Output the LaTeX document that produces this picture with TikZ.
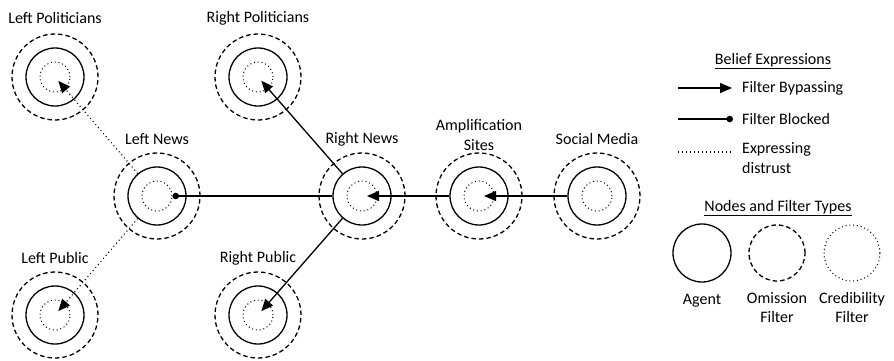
\documentclass[tikz,border=0pt]{standalone}
\usepackage{fontspec}
\setmainfont{Carlito}
\usetikzlibrary{arrows.meta,calc}
\begin{document}
\begin{tikzpicture}[x=1pt,y=-1pt,
  agent/.style={circle,draw,line width=1.3pt,minimum size=58pt,inner sep=0pt},
  omission/.style={circle,draw,line width=1.3pt,dash pattern=on 4.5pt off 3pt,minimum size=86pt,inner sep=0pt},
  credibility/.style={circle,draw,line width=1pt,dash pattern=on 1pt off 2.8pt,minimum size=30pt,inner sep=0pt},
  lbl/.style={font=\fontsize{16}{19.5}\selectfont,align=center,inner sep=0pt},
  bypass/.style={line width=1.3pt,-{Triangle[length=12pt,width=10pt]}},
  blocked/.style={line width=1.3pt,-{Circle[length=6.5pt]}},
  distrust/.style={line width=1.1pt,dash pattern=on 1pt off 3pt,-{Triangle[length=12pt,width=10pt]}},
]
\useasboundingbox (0,0) rectangle (894,360);

% network nodes: agent ring, omission ring, credibility ring
\foreach \n/\x/\y in {lpol/55/77, ln/157/196, lpub/55/315, rpol/258/77,
                      rn/362/196, rpub/258/315, amp/479/196, sm/597/196}{
  \node[omission] (\n o) at (\x,\y) {};
  \node[agent] (\n) at (\x,\y) {};
  \node[credibility] (\n c) at (\x,\y) {};
}

% node labels
\node[lbl] (tlpol) at (55,18) {Left Politicians};
\node[lbl] (trpol) at (258,18) {Right Politicians};
\node[lbl] (tln) at (157,139) {Left News};
\node[lbl] (trn) at (362,139) {Right News};
\node[lbl] (tamp) at (479,135) {Amplification\\Sites};
\node[lbl] (tsm) at (597,139) {Social Media};
\node[lbl] (tlpub) at (55,258) {Left Public};
\node[lbl] (trpub) at (258,258) {Right Public};

% belief expressions between nodes (tips stop just short of the centre)
\draw[bypass] (sm) -- ($(amp.center)!5pt!(sm.center)$);
\draw[bypass] (amp) -- ($(rn.center)!5pt!(amp.center)$);
\draw[bypass] (rn) -- ($(rpol.center)!5pt!(rn.center)$);
\draw[bypass] (rn) -- ($(rpub.center)!5pt!(rn.center)$);
\draw[blocked] (rn) -- (lnc);
\draw[distrust] (ln) -- ($(lpol.center)!5pt!(ln.center)$);
\draw[distrust] (ln) -- ($(lpub.center)!5pt!(ln.center)$);

% legend: belief expressions
\node[lbl] (hbe) at (773,61) {\underline{Belief Expressions}};
\coordinate (b1s) at (678,88);  \coordinate (b1e) at (732,88);
\coordinate (b2s) at (678,119); \coordinate (b2e) at (733,119);
\coordinate (b3s) at (678,152); \coordinate (b3e) at (732,152);
\draw[bypass] (b1s) -- (b1e);
\draw[blocked] (b2s) -- (b2e);
\draw[line width=1.1pt,dash pattern=on 1pt off 3pt] (b3s) -- (b3e);
\node[lbl,anchor=west] (tb1) at (742,88) {Filter Bypassing};
\node[lbl,anchor=west] (tb2) at (742,119) {Filter Blocked};
\node[lbl,anchor=west,align=left] (tb3) at (742,158) {Expressing\\distrust};

% legend: nodes and filter types
\node[lbl] (hnf) at (778,208) {\underline{Nodes and Filter Types}};
\node[agent] (la) at (702,253) {};
\node[omission,minimum size=56pt] (lo) at (777,253) {};
\node[credibility,minimum size=56pt] (lc) at (852,253) {};
\node[lbl] (tla) at (702,301) {Agent};
\node[lbl,anchor=north] (tlo) at (777,292) {Omission\\Filter};
\node[lbl,anchor=north] (tlc) at (852,292) {Credibility\\Filter};
\end{tikzpicture}
\end{document}
